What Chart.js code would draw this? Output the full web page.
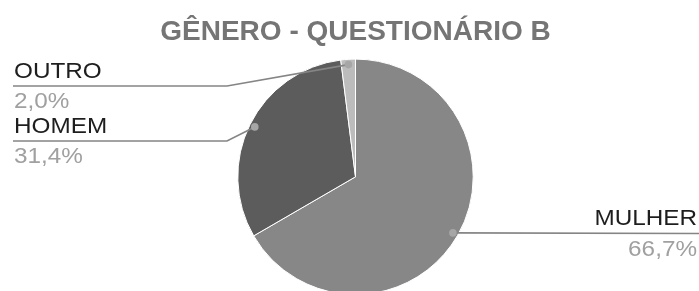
<!DOCTYPE html>
<html>
<head>
<meta charset="utf-8">
<script src="https://cdn.jsdelivr.net/npm/chart.js@4"></script>
<style>
    html, body { margin: 0; padding: 0; background: #fff; overflow: hidden; }
    #wrap { width: 699px; height: 300px; }
</style>
</head>
<body>
<div id="wrap"><canvas id="genderChart"></canvas></div>
<script>
// Chart data
const categories = ['MULHER', 'HOMEM', 'OUTRO'];
const shares = [66.7, 31.4, 2.0];
const shareLabels = ['66,7%', '31,4%', '2,0%'];
const sliceColors = ['#878787', '#5c5c5c', '#bcbcbc'];

// Label placement (side and y of the underline)
const labelSide = ['right', 'left', 'left'];
const labelLineY = [233.5, 141, 86];

const FONT = '"Liberation Sans", Arial, sans-serif';

// Leader lines, dots and callout labels
const calloutPlugin = {
    id: 'callouts',
    afterDatasetsDraw(chart) {
        const ctx = chart.ctx;
        const arcs = chart.getDatasetMeta(0).data;
        arcs.forEach((arc, i) => {
            const mid = (arc.startAngle + arc.endAngle) / 2;
            const r = arc.outerRadius * 0.955;
            const dx = arc.x + Math.cos(mid) * r;
            const dy = arc.y + Math.sin(mid) * r;
            const ly = labelLineY[i];

            ctx.save();
            ctx.strokeStyle = '#858585';
            ctx.lineWidth = 1.6;
            ctx.beginPath();
            ctx.moveTo(dx, dy);
            if (labelSide[i] === 'left') {
                ctx.lineTo(227, ly);
                ctx.lineTo(13, ly);
            } else {
                ctx.lineTo(699, ly);
            }
            ctx.stroke();

            ctx.fillStyle = '#a6a6a6';
            ctx.beginPath();
            ctx.arc(dx, dy, 3.8, 0, Math.PI * 2);
            ctx.fill();

            const tx = labelSide[i] === 'left' ? 14 : 697;
            ctx.textAlign = labelSide[i];
            ctx.textBaseline = 'alphabetic';
            ctx.font = '21.5px ' + FONT;

            ctx.save();
            ctx.translate(tx, ly - 8.5);
            ctx.scale(1.13, 1);
            ctx.fillStyle = '#1e1e1e';
            ctx.fillText(categories[i], 0, 0);
            ctx.restore();

            ctx.save();
            ctx.translate(tx, ly + 22);
            ctx.scale(1.13, 1);
            ctx.fillStyle = '#a0a0a0';
            ctx.fillText(shareLabels[i], 0, 0);
            ctx.restore();

            ctx.restore();
        });
    }
};

new Chart(document.getElementById('genderChart'), {
    type: 'pie',
    data: {
        labels: categories,
        datasets: [{
            data: shares,
            backgroundColor: sliceColors,
            borderColor: '#ffffff',
            borderWidth: 1,
        }],
    },
    options: {
        responsive: true,
        maintainAspectRatio: false,
        animation: false,
        events: [],
        layout: {
            padding: { left: 122, right: 110, top: 0, bottom: 5 },
        },
        plugins: {
            legend: { display: false },
            tooltip: { enabled: false },
            title: {
                display: true,
                text: 'GÊNERO - QUESTIONÁRIO B',
                color: '#757575',
                font: { family: FONT, size: 28, weight: 'bold', lineHeight: 1.2 },
                padding: { top: 15, bottom: 10 },
            },
        },
    },
    plugins: [calloutPlugin],
});
</script>
</body>
</html>
